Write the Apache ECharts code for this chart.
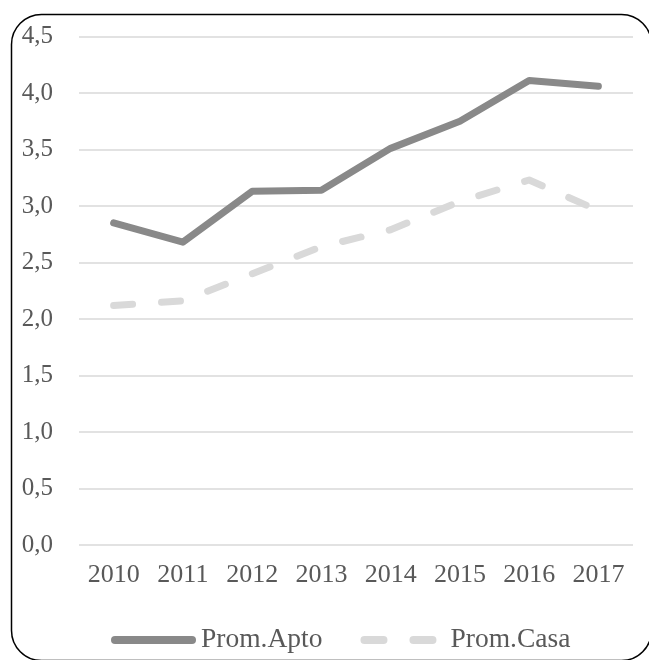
<!DOCTYPE html>
<html><head><meta charset="utf-8">
<script src="https://cdn.jsdelivr.net/npm/echarts@6/dist/echarts.min.js"></script>
<style>html,body{margin:0;padding:0;background:#fff}#c{width:649px;height:660px}</style>
</head><body><div id="c"></div>
<script>
const years = ['2010','2011','2012','2013','2014','2015','2016','2017'];
const promApto = [2.85, 2.68, 3.13, 3.14, 3.51, 3.75, 4.11, 4.06];
const promCasa = [2.12, 2.16, 2.40, 2.64, 2.79, 3.04, 3.23, 2.96];
const seriesNames = ['Prom.Apto', 'Prom.Casa'];

const font = '"Liberation Serif", "DejaVu Serif", serif';
const aptoColor = '#898989', casaColor = '#d9d9d9';
const chart = echarts.init(document.getElementById('c'), null, {renderer: 'canvas'});
chart.setOption({
  animation: false,
  backgroundColor: '#fff',
  graphic: [{
    type: 'rect', left: 9, top: 12,
    shape: {width: 640, height: 646, r: 30},
    style: {fill: 'none', stroke: '#000', lineWidth: 1.5}
  }],
  grid: {left: 79, right: 16, top: 36.5, bottom: 115, containLabel: false},
  xAxis: {
    type: 'category', data: years, boundaryGap: true,
    axisLine: {show: false}, axisTick: {show: false},
    axisLabel: {color: '#595959', fontFamily: font, fontSize: 26, margin: 17}
  },
  yAxis: {
    type: 'value', min: 0, max: 4.5, interval: 0.5,
    axisLine: {show: false}, axisTick: {show: false},
    splitLine: {lineStyle: {color: '#d9d9d9', width: 1.5}},
    axisLabel: {color: '#595959', fontFamily: font, fontSize: 25, margin: 26,
      formatter: v => v.toFixed(1).replace('.', ',')}
  },
  legend: {
    left: 106, top: 621, itemWidth: 85, itemHeight: 8, itemGap: 38,
    textStyle: {color: '#595959', fontFamily: font, fontSize: 27.5},
    data: [
      {name: seriesNames[0], icon: 'path://M4,0h77a4,4 0 0 1 0,8h-77a4,4 0 0 1 0,-8z',
       itemStyle: {color: aptoColor}},
      {name: seriesNames[1], icon: 'path://M4,0h19a4,4 0 0 1 0,8h-19a4,4 0 0 1 0,-8zM53,0h19a4,4 0 0 1 0,8h-19a4,4 0 0 1 0,-8zM84.9,4L85,4L84.9,4z',
       itemStyle: {color: casaColor}}
    ]
  },
  series: [
    {name: seriesNames[0], type: 'line', data: promApto, symbol: 'none',
     lineStyle: {color: aptoColor, width: 7, cap: 'round', join: 'round'},
     itemStyle: {color: aptoColor}},
    {name: seriesNames[1], type: 'line', data: promCasa, symbol: 'none',
     lineStyle: {color: casaColor, width: 7, type: [19, 29], cap: 'round', join: 'round'},
     itemStyle: {color: casaColor}}
  ]
});
</script></body></html>
